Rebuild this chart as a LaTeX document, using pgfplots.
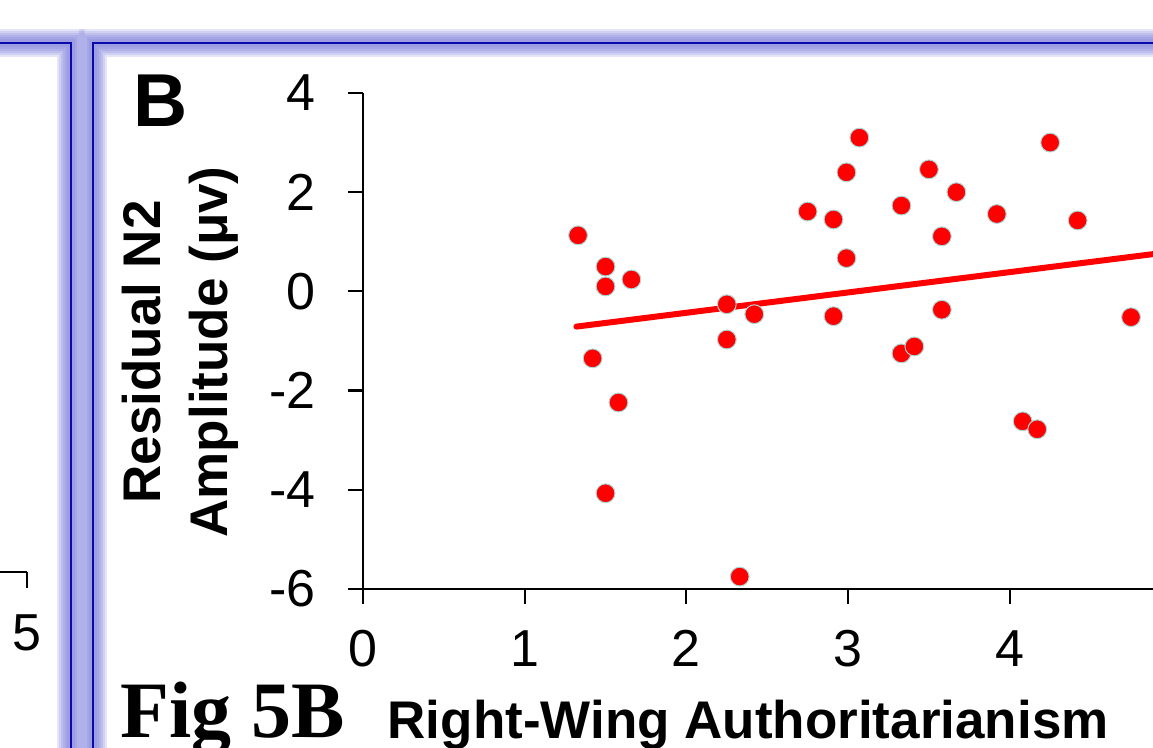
\documentclass[border=0pt]{standalone}
\usepackage{fontspec}
\setmainfont{Liberation Sans}
\newfontfamily\serifb{Liberation Serif}
\usepackage{pgfplots}
\pgfplotsset{compat=1.18}
\definecolor{glow}{RGB}{120,120,220}
\definecolor{frameblue}{RGB}{10,10,170}
\definecolor{ptred}{RGB}{255,0,0}
\definecolor{ptedge}{RGB}{170,215,215}

\pgfplotstableread{
x y
1.33 1.13
1.50 0.50
1.50 0.10
1.66 0.24
1.42 -1.35
1.58 -2.24
1.50 -4.07
2.25 -0.26
2.25 -0.97
2.42 -0.46
2.33 -5.75
2.75 1.61
2.91 1.45
2.91 -0.50
2.99 2.40
2.99 0.67
3.07 3.10
3.33 1.73
3.33 -1.25
3.41 -1.11
3.50 2.46
3.58 1.11
3.58 -0.37
3.67 2.00
3.92 1.56
4.08 -2.62
4.17 -2.78
4.25 3.00
4.42 1.43
4.75 -0.52
4.91 0.70
}\scatterdata

\begin{document}
\begin{tikzpicture}
\useasboundingbox (0,0) rectangle (576.5pt,374pt);
\fill[white] (0,0) rectangle (576.5pt,374pt);
% panel frames with glow
\foreach \w in {14pt, 12pt, 10pt, 8pt, 6pt, 4pt} {
  \draw[glow, line width=\w, opacity=0.19] (-10pt,352.5pt) -- (35.5pt,352.5pt) -- (35.5pt,-10pt);
  \draw[glow, line width=\w, opacity=0.19] (46.5pt,-10pt) -- (46.5pt,352.5pt) -- (590pt,352.5pt);
}
\draw[frameblue, line width=0.8pt] (-10pt,352.5pt) -- (35.5pt,352.5pt) -- (35.5pt,-10pt);
\draw[frameblue, line width=0.8pt] (46.5pt,-10pt) -- (46.5pt,352.5pt) -- (590pt,352.5pt);

% left panel remnant
\begin{axis}[
  at={(0pt,88pt)}, anchor=south west, scale only axis,
  width=13.5pt, height=10pt,
  xmin=4.9, xmax=5, ymin=0, ymax=1,
  axis x line=bottom, axis y line=none,
  axis line style={-, line width=1.1pt, black},
  xtick={5}, ytick=\empty,
  tick align=outside, major tick length=8pt,
  tick style={line width=1.1pt, black},
  /pgf/number format/assume math mode=true,
  ticklabel style={font=\fontsize{26}{30}\selectfont},
  xticklabel style={anchor=north, inner sep=0pt, yshift=-13pt},
]
\addplot[draw=none] coordinates {(4.95,0.5)};
\end{axis}

\begin{axis}[
  at={(181.5pt,79.5pt)}, anchor=south west, scale only axis,
  width=395pt, height=248pt,
  xmin=0, xmax=4.886, ymin=-6, ymax=4,
  axis lines=left,
  axis line style={-, line width=1.1pt, black},
  xtick={0,1,2,3,4}, ytick={-6,-4,-2,0,2,4},
  tick align=outside, major tick length=7.5pt,
  tick style={line width=1.1pt, black},
  /pgf/number format/assume math mode=true,
  ticklabel style={font=\fontsize{26}{30}\selectfont},
  xticklabel style={anchor=north, inner sep=0pt, yshift=-13pt},
  yticklabel style={anchor=east, inner sep=0pt, xshift=-16pt},
  ylabel={Residual N2\\Amplitude (μv)},
  every axis y label/.style={at={(axis description cs:-0.2310,0.478)}, rotate=90, anchor=center, align=center,
     font=\bfseries\fontsize{26.5}{33.5}\selectfont},
  xlabel={Right-Wing Authoritarianism},
  every axis x label/.style={at={(axis description cs:0.4875,-0.3024)}, anchor=base,
     font=\bfseries\fontsize{26.5}{30}\selectfont},
]
\addplot[ptred, line width=3pt, line cap=round, no markers] coordinates {(1.32,-0.71) (5.2,0.88)};
\addplot[only marks, mark=*, mark size=4.7pt, mark options={fill=ptred, draw=ptedge, line width=0.5pt}] table[x=x, y=y] {\scatterdata};
\end{axis}

\node[anchor=base west, inner sep=0pt, font=\bfseries\fontsize{37.5}{40}\selectfont] at (66.5pt,310.5pt) {B};
\node[anchor=base west, inner sep=0pt, font=\serifb\bfseries\fontsize{40}{44}\selectfont] at (60pt,5pt) {Fig 5B};
\end{tikzpicture}
\end{document}
